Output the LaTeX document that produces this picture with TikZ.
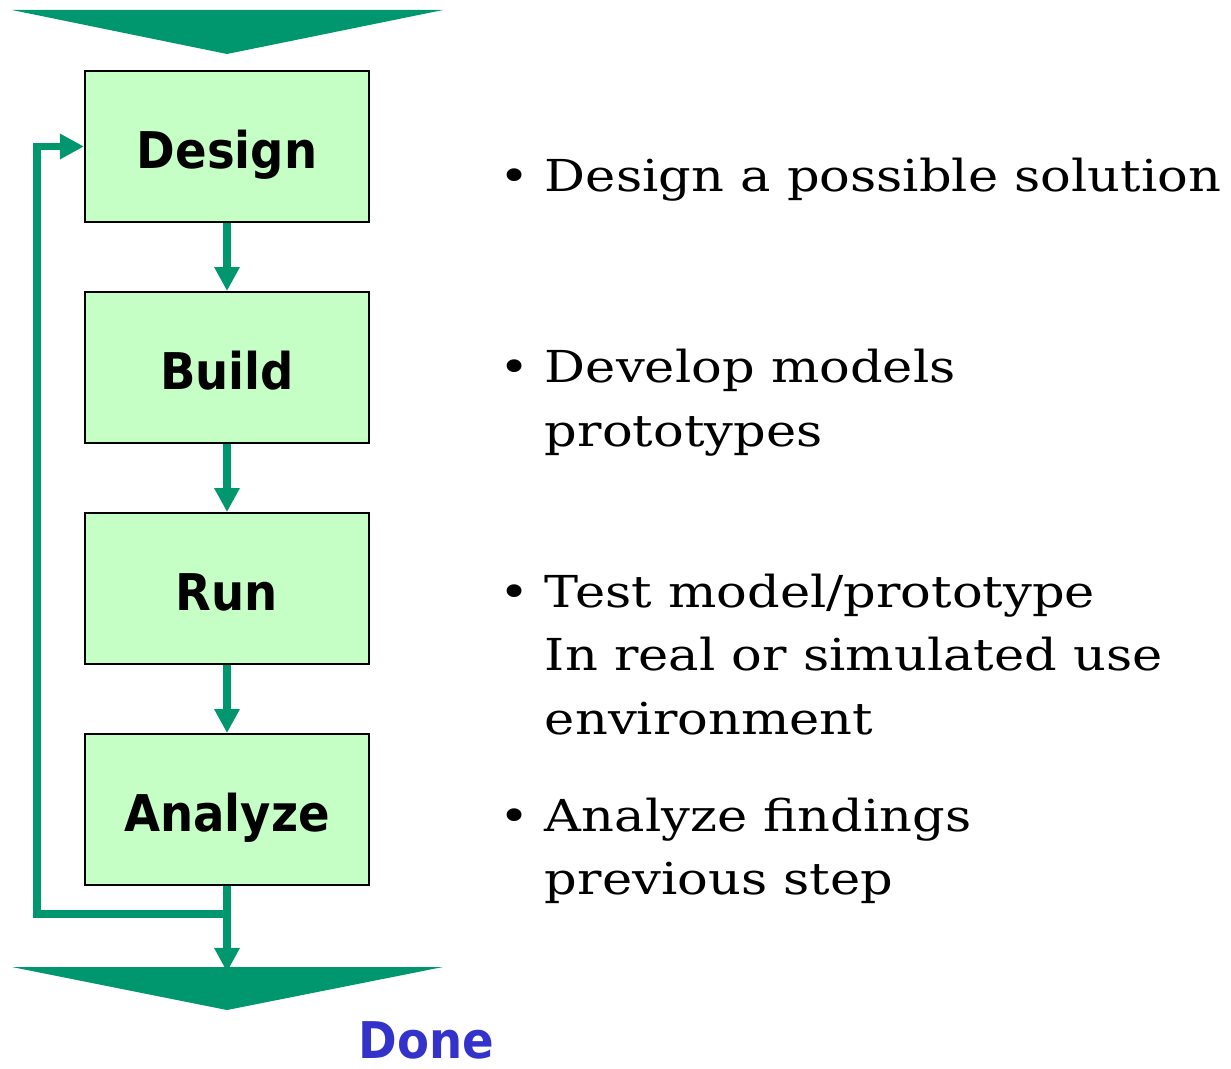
\documentclass[tikz,border=0pt]{standalone}
\usepackage{fontspec}
\usetikzlibrary{positioning,arrows.meta}
\setmainfont{DejaVu Serif}[FakeStretch=1.16]
\newfontfamily\boxfont{DejaVu Sans}[FakeStretch=0.92]
\definecolor{flowgreen}{RGB}{0,150,110}
\definecolor{boxgreen}{RGB}{198,255,198}
\definecolor{doneblue}{RGB}{51,51,204}
\tikzset{
	stepbox/.style={rectangle, draw=black, line width=1.4pt, fill=boxgreen,
		minimum width=7.1cm, minimum height=3.775cm, text height=1.075cm, text depth=0cm,
		font=\boxfont\bfseries\fontsize{36}{44}\selectfont},
	flow/.style={draw=flowgreen, line width=0.19cm, -{Triangle[length=0.6cm,width=0.6cm]}},
	bullettext/.style={anchor=base west, font=\fontsize{31.3}{45.5}\selectfont}
}
\begin{document}
\begin{tikzpicture}[x=0.025cm, y=-0.025cm]
	\useasboundingbox (0,0) rectangle (1231,1069);
	% Define the nodes with specific positions
	\node[stepbox] (design) at (227, 146.5) {Design};
	\node[stepbox, below=1.7cm of design] (build) {Build};
	\node[stepbox, below=1.7cm of build] (run) {Run};
	\node[stepbox, below=1.7cm of run] (analyze) {Analyze};
	\coordinate (loopcorner) at (37, 914);
	\coordinate (donetip) at (227, 972);

	% Big arrows in and out
	\fill[flowgreen] (12, 10) -- (443, 10) -- (227, 54) -- cycle;
	\draw[flow] (design) -- (build);
	\draw[flow] (build) -- (run);
	\draw[flow] (run) -- (analyze);
	\draw[flow] (analyze.south) |- (loopcorner) |- (design.west);
	\draw[flow] (analyze.south) -- (donetip);
	\fill[flowgreen] (12, 967) -- (443, 967) -- (227, 1010) -- cycle;
	\node[anchor=base, inner sep=0pt, text=doneblue, font=\boxfont\bfseries\fontsize{36}{44}\selectfont] (done) at (426.5, 1058) {Done};

	% Bullet texts
	\node[bullettext] (designtext) at (495, 192) {\begin{tabular}[t]{@{}l@{}l@{}}\makebox[1.125cm][l]{\textbullet} & Design a possible solution\end{tabular}};
	\node[bullettext] (buildtext) at (495, 383) {\begin{tabular}[t]{@{}l@{}l@{}}\makebox[1.125cm][l]{\textbullet} & Develop models\\ & prototypes\end{tabular}};
	\node[bullettext] (runtext) at (495, 607) {\begin{tabular}[t]{@{}l@{}l@{}}\makebox[1.125cm][l]{\textbullet} & Test model/prototype\\ & In real or simulated use\\ & environment\end{tabular}};
	\node[bullettext] (analyzetext) at (495, 831) {\begin{tabular}[t]{@{}l@{}l@{}}\makebox[1.125cm][l]{\textbullet} & Analyze findings\\ & previous step\end{tabular}};
\end{tikzpicture}
\end{document}
